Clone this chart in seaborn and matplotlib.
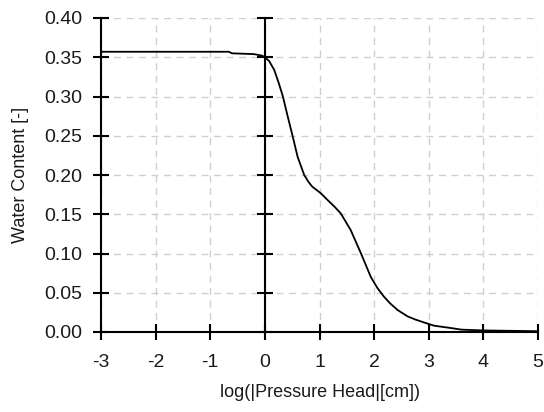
import matplotlib
matplotlib.use("Agg")
import matplotlib.pyplot as plt
import seaborn as sns
import pandas as pd

log_head = [-3.0, -2.0, -1.0, -0.66, -0.6, -0.2, -0.05, 0.0, 0.08, 0.17, 0.25, 0.33,
            0.42, 0.51, 0.60, 0.72, 0.80, 0.87, 1.02, 1.15, 1.27, 1.39, 1.57, 1.76,
            1.94, 2.06, 2.18, 2.30, 2.43, 2.61, 2.75, 2.92, 3.10, 3.41, 3.6, 4.0,
            4.5, 5.0]
water_content = [0.357, 0.357, 0.357, 0.357, 0.355, 0.354, 0.352, 0.350, 0.345, 0.334,
                 0.318, 0.300, 0.274, 0.249, 0.223, 0.200, 0.191, 0.185, 0.177, 0.168,
                 0.160, 0.151, 0.130, 0.100, 0.070, 0.056, 0.045, 0.036, 0.028, 0.020,
                 0.016, 0.012, 0.008, 0.005, 0.003, 0.002, 0.0015, 0.001]
x_ticks = [-3, -2, -1, 0, 1, 2, 3, 4, 5]
y_ticks = [0.00, 0.05, 0.10, 0.15, 0.20, 0.25, 0.30, 0.35, 0.40]

sns.set_theme(style="white")
plt.rcParams['font.family'] = ['Liberation Sans', 'DejaVu Sans']

df = pd.DataFrame({"x": log_head, "y": water_content})

fig = plt.figure(figsize=(5.44, 4.12), dpi=100)
ax = fig.add_axes([101/544, 1 - 332/412, (538 - 101)/544, (332 - 18)/412])

sns.lineplot(data=df, x="x", y="y", ax=ax, color="black", linewidth=1.3)

ax.set_xlim(-3, 5)
ax.set_ylim(0, 0.40)
ax.set_xticks(x_ticks)
ax.set_xticklabels([str(t) for t in x_ticks])
ax.set_yticks(y_ticks)
ax.set_yticklabels([f"{t:.2f}" for t in y_ticks])

ax.grid(True, linestyle=(0, (5, 4)), color="#cfcfcf", linewidth=1.0)
ax.set_axisbelow(True)

for s in ["top", "right"]:
    ax.spines[s].set_visible(False)
for s in ["left", "bottom"]:
    ax.spines[s].set_color("black")
    ax.spines[s].set_linewidth(1.5)

txt = "#1a1a1a"
ax.tick_params(axis="both", which="major", direction="inout", length=11, width=1.5,
               color="black", labelsize=14, labelcolor=txt, left=True, bottom=True)
ax.tick_params(axis="y", pad=8)
ax.tick_params(axis="x", pad=10)

sec = ax.secondary_yaxis(3/8)
sec.set_zorder(5)
sec.set_yticks(y_ticks)
sec.tick_params(direction="inout", length=11, width=1.5, color="black", left=True,
                labelleft=False, labelright=False, right=False)
sec.spines["left"].set_linewidth(1.5)
sec.spines["left"].set_color("black")
for s in ["right", "top", "bottom"]:
    sec.spines[s].set_visible(False)

ax.set_xlabel("log(|Pressure Head|[cm])", fontsize=13, color=txt, labelpad=10)
ax.set_ylabel("Water Content [-]", fontsize=13, color=txt, labelpad=11)

fig.savefig("out.png", dpi=100)
